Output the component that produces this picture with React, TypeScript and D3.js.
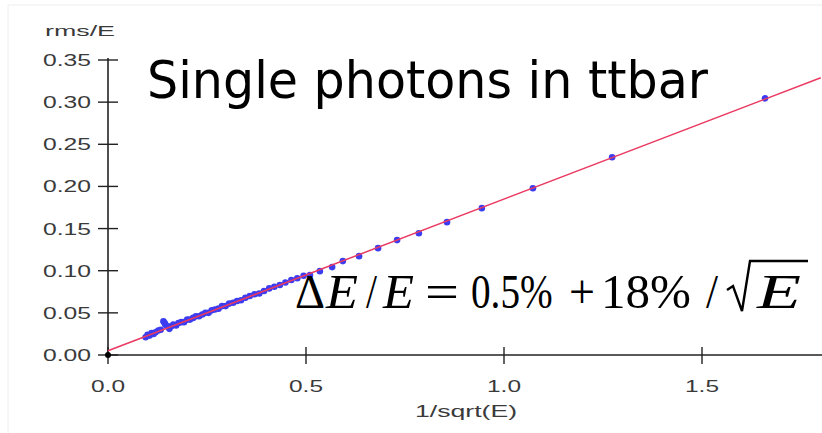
import React from "react";
import * as d3 from "d3";

const xTicks = [0, 0.5, 1.0, 1.5];
const yTicks = [0, 0.05, 0.1, 0.15, 0.2, 0.25, 0.3, 0.35];
const xTickLabels = ["0.0", "0.5", "1.0", "1.5"];
const yTickLabels = ["0.00", "0.05", "0.10", "0.15", "0.20", "0.25", "0.30", "0.35"];

// measured points: x = 1/sqrt(E), y = rms/E
const ptsX = [
  0.095, 0.1, 0.105, 0.11, 0.115, 0.12, 0.127, 0.133, 0.14, 0.143, 0.145, 0.15, 0.155,
  0.16, 0.165, 0.172, 0.178, 0.185, 0.192, 0.2, 0.207, 0.215, 0.222, 0.23, 0.238, 0.246,
  0.254, 0.262, 0.27, 0.279, 0.288, 0.297, 0.306, 0.316, 0.326, 0.336, 0.347, 0.358,
  0.37, 0.382, 0.394, 0.407, 0.42, 0.434, 0.448, 0.463, 0.478, 0.494, 0.51, 0.535,
  0.566, 0.593, 0.634, 0.682, 0.73, 0.785, 0.856, 0.944, 1.073, 1.273, 1.659,
];
const ptsY = [
  0.021, 0.024, 0.023, 0.026, 0.025, 0.027, 0.029, 0.03, 0.04, 0.038, 0.036, 0.034, 0.031,
  0.034, 0.036, 0.035, 0.038, 0.039, 0.039, 0.042, 0.042, 0.044, 0.046, 0.046, 0.048, 0.05,
  0.05, 0.053, 0.054, 0.055, 0.058, 0.058, 0.061, 0.062, 0.064, 0.065, 0.068, 0.07,
  0.072, 0.073, 0.076, 0.079, 0.081, 0.083, 0.086, 0.089, 0.091, 0.094, 0.0948, 0.0995,
  0.1043, 0.1114, 0.1173, 0.1268, 0.1363, 0.1445, 0.1576, 0.1742, 0.1979, 0.2346, 0.3045,
];
const fitA = 0.005;
const fitB = 0.18;
const fitRange = [0, 1.8];

export default function App() {
  const W = 822, H = 433;
  const x = d3.scaleLinear().domain([0, 1.8]).range([108, 820.8]);
  const y = d3.scaleLinear().domain([0, 0.35]).range([355, 60]);
  const line = d3
    .line<number>()
    .x((d) => x(d))
    .y((d) => y(fitA + fitB * d));
  const sans = "'Liberation Sans', Arial, sans-serif";
  const serif = "'Liberation Serif', 'Times New Roman', serif";
  const fy = 308;
  const fs = 49;
  return (
    <svg width={W} height={H} style={{ position: "absolute", left: 0, top: 0, background: "#fff" }}>
      <rect x={0} y={0} width={W} height={H} fill="#fff" />
      <line x1={8} y1={5} x2={W} y2={5} stroke="#eeeeee" />
      <line x1={8} y1={5} x2={8} y2={H} stroke="#eeeeee" />
      {/* axes */}
      <line x1={x(0)} y1={y(0.35) - 2} x2={x(0)} y2={y(0)} stroke="#222" strokeWidth={1.6} />
      <line x1={x(0)} y1={y(0)} x2={W} y2={y(0)} stroke="#222" strokeWidth={1.6} />
      {yTicks.map((t, i) => (
        <g key={"y" + i}>
          <line x1={x(0) - 10} x2={x(0) + 10} y1={y(t)} y2={y(t)} stroke="#222" strokeWidth={1.4} />
          <text x={91} y={y(t) + 6} textAnchor="end" fontFamily={sans} fontSize={17} fill="#3a3a3a"
            textLength={48} lengthAdjust="spacingAndGlyphs">{yTickLabels[i]}</text>
        </g>
      ))}
      {xTicks.map((t, i) => (
        <g key={"x" + i}>
          <line x1={x(t)} x2={x(t)} y1={y(0) - 8} y2={y(0) + 9} stroke="#222" strokeWidth={1.4} />
          <text x={x(t)} y={392} textAnchor="middle" fontFamily={sans} fontSize={17} fill="#3a3a3a"
            textLength={34} lengthAdjust="spacingAndGlyphs">{xTickLabels[i]}</text>
        </g>
      ))}
      <text x={466} y={417} textAnchor="middle" fontFamily={sans} fontSize={16} fill="#3a3a3a"
        textLength={102} lengthAdjust="spacingAndGlyphs">1/sqrt(E)</text>
      <text x={45} y={36} fontFamily={sans} fontSize={15} fill="#3a3a3a"
        textLength={70} lengthAdjust="spacingAndGlyphs">rms/E</text>
      {/* points */}
      {ptsX.map((px, i) => (
        <circle key={"p" + i} cx={x(px)} cy={y(ptsY[i])} r={3.3} fill="#3c3cf0" />
      ))}
      <circle cx={x(0)} cy={y(0)} r={3} fill="#000" />
      {/* fit */}
      <path d={line(fitRange) || ""} fill="none" stroke="#ea3a62" strokeWidth={1.5} />
      {/* title */}
      <text x={147} y={98} fontFamily="'Comic Sans MS', 'DejaVu Sans', sans-serif" fontSize={52} fill="#000"
        textLength={561} lengthAdjust="spacingAndGlyphs">Single photons in ttbar</text>
      {/* formula */}
      <g fontFamily={serif} fontSize={fs} fill="#000">
        <text x={295} y={fy} textLength={30} lengthAdjust="spacingAndGlyphs">Δ</text>
        <text x={326} y={fy} fontStyle="italic" textLength={32} lengthAdjust="spacingAndGlyphs">E</text>
        <text x={366} y={fy} textLength={11} lengthAdjust="spacingAndGlyphs">/</text>
        <text x={383} y={fy} fontStyle="italic" textLength={31} lengthAdjust="spacingAndGlyphs">E</text>
        <text x={425} y={fy} textLength={34} lengthAdjust="spacingAndGlyphs">=</text>
        <text transform={`translate(471,${fy}) scale(0.8,1)`}>0.5%</text>
        <text x={569} y={fy} textLength={26} lengthAdjust="spacingAndGlyphs">+</text>
        <text x={601} y={fy} textLength={90} lengthAdjust="spacingAndGlyphs">18%</text>
        <text x={706} y={fy} textLength={12} lengthAdjust="spacingAndGlyphs">/</text>
        <path d="M727,290 L733,286 L742,311 L750,261 L808,261" fill="none" stroke="#000" strokeWidth={2.4}
          strokeLinejoin="miter" />
        <text x={757} y={fy} fontStyle="italic" textLength={44} lengthAdjust="spacingAndGlyphs">E</text>
      </g>
    </svg>
  );
}
